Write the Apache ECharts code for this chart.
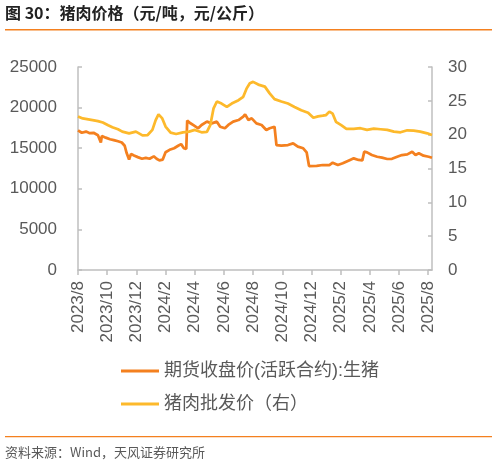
<!DOCTYPE html>
<html>
<head>
<meta charset="utf-8">
<script src="https://cdn.jsdelivr.net/npm/echarts@6/dist/echarts.min.js"></script>
<style>
  html, body { margin: 0; padding: 0; background: #fff; }
  #chart { width: 497px; height: 466px; }
</style>
</head>
<body>
<div id="chart"></div>
<script>
// 期货收盘价(活跃合约):生猪, 元/吨
const futDates = [
  "2023-08-01","2023-08-09","2023-08-18","2023-08-26","2023-09-03","2023-09-12","2023-09-18","2023-09-20",
  "2023-09-28","2023-10-07","2023-10-15","2023-10-24","2023-11-01","2023-11-07","2023-11-11","2023-11-16",
  "2023-11-20","2023-11-26","2023-12-04","2023-12-13","2023-12-21","2023-12-29","2024-01-07","2024-01-13",
  "2024-01-19","2024-01-26","2024-02-01","2024-02-09","2024-02-18","2024-02-26","2024-03-03","2024-03-09",
  "2024-03-14","2024-03-16","2024-03-22","2024-03-30","2024-04-08","2024-04-15","2024-04-26","2024-05-06",
  "2024-05-17","2024-05-24","2024-06-03","2024-06-10","2024-06-20","2024-07-01","2024-07-11","2024-07-15",
  "2024-07-22","2024-07-29","2024-08-08","2024-08-19","2024-08-29","2024-09-05","2024-09-15","2024-09-19",
  "2024-09-29","2024-10-13","2024-10-24","2024-11-03","2024-11-14","2024-11-21","2024-11-26","2024-11-28",
  "2024-12-12","2024-12-25","2025-01-08","2025-01-15","2025-01-26","2025-02-05","2025-02-19","2025-02-26",
  "2025-03-08","2025-03-16","2025-03-20","2025-03-26","2025-04-05","2025-04-16","2025-04-26","2025-05-07",
  "2025-05-17","2025-05-28","2025-06-07","2025-06-18","2025-06-28","2025-07-05","2025-07-12","2025-07-22",
  "2025-08-02","2025-08-09"
];
const futPrice = [
  17200,16900,17050,16850,16900,16600,15700,16500,
  16300,16100,16000,15850,15700,15300,14400,13600,
  14300,14100,13900,13700,13800,13700,14000,13700,
  13500,13600,14500,14800,15000,15300,15500,15000,
  14900,18400,18100,17800,17450,17860,18270,18060,
  18270,17650,17450,17860,18270,18470,18880,19170,
  18470,18680,18060,17860,17240,17450,17650,15390,
  15310,15390,15600,15190,14990,14490,12800,12720,
  12810,12930,12930,13210,12930,13140,13550,13750,
  13550,13500,14570,14490,14160,13950,13830,13670,
  13700,13950,14160,14240,14570,14160,14370,14080,
  13950,13830
];

// 猪肉批发价, 元/公斤 (右轴)
const pigDates = [
  "2023-08-01","2023-08-11","2023-08-20","2023-09-01","2023-09-12","2023-09-22","2023-10-03","2023-10-12",
  "2023-10-24","2023-11-02","2023-11-16","2023-11-30","2023-12-14","2023-12-25","2024-01-04","2024-01-11",
  "2024-01-17","2024-01-25","2024-02-01","2024-02-11","2024-02-22","2024-03-07","2024-03-20","2024-04-01",
  "2024-04-15","2024-04-26","2024-05-03","2024-05-10","2024-05-17","2024-05-27","2024-06-07","2024-06-17",
  "2024-07-01","2024-07-11","2024-07-18","2024-07-25","2024-08-01","2024-08-12","2024-08-26","2024-09-05",
  "2024-09-15","2024-09-29","2024-10-13","2024-10-27","2024-11-10","2024-11-24","2024-12-05","2024-12-15",
  "2024-12-25","2025-01-01","2025-01-08","2025-01-15","2025-01-22","2025-02-02","2025-02-12","2025-02-26",
  "2025-03-12","2025-03-26","2025-04-09","2025-04-23","2025-05-07","2025-05-21","2025-06-04","2025-06-18",
  "2025-07-01","2025-07-15","2025-07-30","2025-08-09"
];
const pigPrice = [
  22.7,22.4,22.3,22.15,22.0,21.8,21.4,21.1,
  20.8,20.45,20.2,20.45,19.9,19.95,20.7,22.15,
  23.0,22.4,21.2,20.3,20.1,20.35,20.45,20.7,
  20.35,20.4,21.4,23.9,24.9,24.6,24.1,24.6,
  25.1,25.6,26.8,27.6,27.8,27.4,27.1,26.1,
  25.25,24.9,24.6,24.1,23.6,23.25,22.5,22.7,
  22.8,22.9,23.4,23.1,21.9,21.4,20.85,20.85,
  20.95,20.7,20.9,20.8,20.7,20.45,20.35,20.65,
  20.6,20.45,20.2,19.95
];

const xTicks = [0, 2, 4, 6, 8, 10, 12, 14, 16, 18, 20, 22, 24]; // every 2 months from 2023/8
const seriesNames = ["期货收盘价(活跃合约):生猪", "猪肉批发价（右）"];
const colors = ["#F4801F", "#FDB92B"];

const FONT = "Liberation Sans, Arial, Noto Sans CJK SC, sans-serif";
const CJK = "Noto Sans CJK SC, Liberation Sans, sans-serif";

// month position from 2023/8, fractional by day of month
function monthPos(s) {
  const [y, m, d] = s.split("-").map(Number);
  const dim = new Date(Date.UTC(y, m, 0)).getUTCDate();
  return (y - 2023) * 12 + (m - 8) + (d - 1) / dim;
}
function monthLabel(v) {
  const k = Math.round(v) + 7;
  return (2023 + Math.floor(k / 12)) + "/" + (k % 12 + 1);
}

const futData = futDates.map((d, i) => [monthPos(d), futPrice[i]]);
const pigData = pigDates.map((d, i) => [monthPos(d), pigPrice[i]]);
const xMax = monthPos("2025-08-09");

const chart = echarts.init(document.getElementById("chart"), null, { renderer: "canvas" });

chart.setOption({
  animation: false,
  color: colors,
  grid: { left: 78, right: 65, top: 67, bottom: 196, containLabel: false },
  xAxis: {
    type: "value",
    min: 0,
    max: xMax,
    interval: 2,
    splitLine: { show: false },
    axisLine: { lineStyle: { color: "#BFBFBF", width: 1.5 } },
    axisTick: { show: true, length: 5, lineStyle: { color: "#BFBFBF", width: 1.5 }, customValues: xTicks },
    axisLabel: {
      rotate: 90,
      margin: 11,
      color: "#595959",
      fontSize: 17,
      fontFamily: FONT,
      customValues: xTicks,
      formatter: monthLabel
    }
  },
  yAxis: [
    {
      type: "value",
      min: 0, max: 25000, interval: 5000,
      splitLine: { show: false },
      axisLine: { show: true, lineStyle: { color: "#BFBFBF", width: 1.5 } },
      axisTick: { show: true, inside: true, length: 4, lineStyle: { color: "#BFBFBF", width: 1.5 } },
      axisLabel: { color: "#595959", fontSize: 17, fontFamily: FONT, margin: 21, formatter: v => String(v) }
    },
    {
      type: "value",
      min: 0, max: 30, interval: 5,
      position: "right",
      splitLine: { show: false },
      axisLine: { show: true, lineStyle: { color: "#BFBFBF", width: 1.5 } },
      axisTick: { show: true, inside: true, length: 4, lineStyle: { color: "#BFBFBF", width: 1.5 } },
      axisLabel: { color: "#595959", fontSize: 17, fontFamily: FONT, margin: 16 }
    }
  ],
  legend: {
    orient: "vertical",
    left: 116,
    top: 355,
    icon: "rect",
    itemWidth: 38,
    itemHeight: 3,
    itemGap: 11,
    data: seriesNames,
    textStyle: { color: "#595959", fontSize: 18, fontFamily: FONT, lineHeight: 22 }
  },
  graphic: [
    {
      type: "text", left: 5, top: 5,
      style: { text: "图 30：猪肉价格（元/吨，元/公斤）", fill: "#222", font: "bold 16px " + CJK }
    },
    { type: "rect", left: 5, top: 29, shape: { width: 487, height: 1.5 }, style: { fill: "#F4801F" } },
    { type: "rect", left: 5, top: 436, shape: { width: 487, height: 1.2 }, style: { fill: "#F4801F" } },
    {
      type: "text", left: 5, top: 446,
      style: { text: "资料来源：Wind，天风证券研究所", fill: "#595959", font: "13px " + CJK }
    }
  ],
  series: [
    {
      name: seriesNames[0],
      type: "line",
      yAxisIndex: 0,
      data: futData,
      showSymbol: false,
      lineStyle: { width: 2.75, color: colors[0] }
    },
    {
      name: seriesNames[1],
      type: "line",
      yAxisIndex: 1,
      data: pigData,
      showSymbol: false,
      lineStyle: { width: 2.75, color: colors[1] }
    }
  ]
});
window.addEventListener("resize", () => chart.resize());
</script>
</body>
</html>
